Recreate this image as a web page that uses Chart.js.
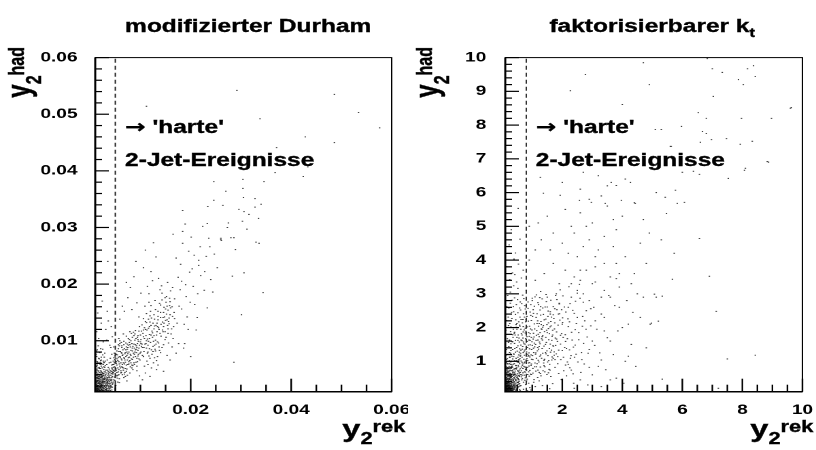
<!DOCTYPE html>
<html><head><meta charset="utf-8">
<script src="https://cdn.jsdelivr.net/npm/chart.js@4.4.1/dist/chart.umd.min.js"></script>
<style>
html,body{margin:0;padding:0;background:#fff;overflow:hidden;width:816px;height:450px}
#stage{position:absolute;left:0;top:0;width:600px;height:450px;transform:scaleX(1.36);transform-origin:0 0;font-family:"Liberation Sans",Arial,sans-serif;font-weight:bold;color:#000}
.pad{position:absolute;top:0;width:300px;height:450px}
.pad canvas{position:absolute;left:0;top:0}
.t{position:absolute;white-space:nowrap;line-height:1;-webkit-text-stroke:0.35px #000}
.ttl{font-size:18px;top:16.8px}
.ann{font-size:18px}
.arr{font-family:"DejaVu Sans",sans-serif;font-weight:bold}
.axx{font-size:24px;right:2px;top:416.7px}
.axy{font-size:24px;left:2.1px;top:197px;width:150px;text-align:right;transform-origin:0 0;transform:rotate(-90deg)}
.sb{font-size:16px;position:relative;top:7.5px}
.sp{font-size:16px;position:relative;top:-4.5px}
.ttl .sb{font-size:12px;top:5px}
</style></head>
<body>
<div id="stage">
 <div class="pad" style="left:0">
  <canvas id="cL" width="300" height="450" style="width:300px;height:450px"></canvas>
  <div class="t ttl" style="left:92px">modifizierter Durham</div>
  <div class="t ann" style="left:92px;top:117.8px"><span class="arr">→</span> 'harte'</div>
  <div class="t ann" style="left:92px;top:150.8px">2-Jet-Ereignisse</div>
  <div class="t axx">y<span class="sb">2</span><span class="sp">rek</span></div>
  <div class="t axy">y<span class="sb">2</span><span class="sp">had</span></div>
 </div>
 <div class="pad" style="left:300px">
  <canvas id="cR" width="300" height="450" style="width:300px;height:450px"></canvas>
  <div class="t ttl" style="left:104px">faktorisierbarer k<span class="sb">t</span></div>
  <div class="t ann" style="left:94px;top:117.8px"><span class="arr">→</span> 'harte'</div>
  <div class="t ann" style="left:94px;top:150.8px">2-Jet-Ereignisse</div>
  <div class="t axx">y<span class="sb">2</span><span class="sp">rek</span></div>
  <div class="t axy">y<span class="sb">2</span><span class="sp">had</span></div>
 </div>
</div>
<script>
// ---- data: modifizierter Durham (y2 rek, y2 had) ----
const durhamXTicks = [0.02, 0.04, 0.06];
const durhamYTicks = [0.01, 0.02, 0.03, 0.04, 0.05, 0.06];
const durhamCut = 0.005;
const durhamPoints = [
[.0011,.0013],[.0014,.0021],[.0019,.0012],[.0012,.0030],[.0023,.0017],[.0016,.0011],[.0027,.0025],[.0013,.0016],[.0031,.0014],[.0020,.0028],
[.0015,.0041],[.0024,.0011],[.0010,.0022],[.0035,.0021],[.0018,.0019],[.0029,.0036],[.0012,.0012],[.0022,.0046],[.0038,.0028],[.0017,.0025],
[.0026,.0013],[.0013,.0035],[.0033,.0031],[.0021,.0021],[.0010,.0016],[.0041,.0017],[.0016,.0052],[.0028,.0019],[.0014,.0014],[.0036,.0043],
[.0019,.0033],[.0025,.0029],[.0011,.0044],[.0032,.0011],[.0022,.0014],[.0015,.0027],[.0043,.0035],[.0027,.0049],[.0018,.0011],[.0030,.0024],
[.0012,.0019],[.0039,.0013],[.0024,.0038],[.0016,.0016],[.0034,.0026],[.0020,.0013],[.0011,.0031],[.0028,.0031],[.0044,.0023],[.0017,.0040],
[.0023,.0022],[.0013,.0011],[.0031,.0040],[.0019,.0026],[.0037,.0018],[.0014,.0048],[.0026,.0017],[.0010,.0027],[.0040,.0047],[.0021,.0031],
[.0029,.0011],[.0015,.0018],[.0034,.0034],[.0018,.0037],[.0024,.0024],[.0012,.0039],[.0042,.0029],[.0027,.0042],[.0016,.0013],[.0033,.0016],
[.0020,.0017],[.0011,.0025],[.0038,.0038],[.0025,.0020],[.0014,.0029],[.0031,.0027],[.0019,.0044],[.0036,.0012],[.0022,.0055],[.0013,.0023],
[.0028,.0027],[.0017,.0021],[.0045,.0041],[.0023,.0035],[.0010,.0012],[.0032,.0021],[.0015,.0033],[.0040,.0025],[.0026,.0058],[.0018,.0015],
[.0035,.0032],[.0012,.0026],[.0021,.0018],[.0030,.0045],[.0016,.0030],[.0043,.0013],[.0024,.0015],[.0011,.0036],[.0037,.0036],[.0020,.0041],
[.0014,.0012],[.0027,.0033],[.0039,.0022],[.0017,.0047],[.0033,.0019],[.0022,.0026],[.0012,.0015],[.0029,.0053],[.0041,.0032],[.0019,.0023],
[.0025,.0012],[.0013,.0043],[.0034,.0028],[.0021,.0016],[.0016,.0020],[.0038,.0050],[.0026,.0022],[.0011,.0018],[.0031,.0033],[.0018,.0029],
[.0042,.0019],[.0023,.0029],[.0014,.0038],[.0030,.0013],[.0019,.0051],[.0036,.0024],[.0012,.0022],[.0027,.0039],[.0044,.0045],[.0015,.0015],
[.0032,.0043],[.0020,.0011],[.0010,.0034],[.0025,.0026],[.0039,.0016],[.0017,.0034],[.0028,.0015],[.0013,.0027],[.0035,.0039],[.0022,.0019],
[.0016,.0024],[.0033,.0012],[.0024,.0044],[.0011,.0011],[.0040,.0030],[.0019,.0017],[.0029,.0028],[.0014,.0057],[.0037,.0020],[.0021,.0036],
[.0026,.0031],[.0012,.0033],[.0043,.0026],[.0018,.0013],[.0031,.0048],[.0023,.0012],[.0015,.0021],[.0035,.0015],[.0020,.0024],[.0028,.0021],
[.0013,.0018],[.0041,.0039],[.0024,.0034],[.0017,.0027],[.0034,.0023],[.0011,.0040],[.0027,.0012],[.0021,.0047],[.0038,.0032],[.0015,.0030],
[.0030,.0018],[.0019,.0020],[.0012,.0014],[.0036,.0046],[.0025,.0037],[.0014,.0016],[.0042,.0042],[.0022,.0023],[.0032,.0030],[.0017,.0017],
[.0013,.0020],[.0017,.0014],[.0021,.0024],[.0025,.0018],[.0029,.0032],[.0033,.0025],[.0037,.0041],[.0041,.0021],[.0015,.0035],[.0019,.0029],
[.0023,.0040],[.0027,.0016],[.0031,.0022],[.0035,.0035],[.0039,.0044],[.0043,.0031],[.0012,.0028],[.0016,.0045],[.0020,.0012],[.0024,.0032],
[.0028,.0045],[.0032,.0014],[.0036,.0030],[.0040,.0019],[.0044,.0050],[.0014,.0024],[.0018,.0032],[.0022,.0037],[.0026,.0028],[.0030,.0039],
[.0034,.0048],[.0038,.0025],[.0042,.0046],[.0011,.0020],[.0015,.0012],[.0019,.0039],[.0023,.0014],[.0027,.0054],[.0031,.0017],[.0035,.0027],
[.0039,.0035],[.0043,.0057],[.0013,.0050],[.0017,.0060],[.0021,.0065],[.0025,.0042],[.0029,.0020],[.0033,.0058],[.0037,.0015],[.0041,.0062],
[.0046,.0027],[.0012,.0045],[.0016,.0037],[.0020,.0051],[.0024,.0021],[.0028,.0062],[.0032,.0036],[.0036,.0053],[.0040,.0012],[.0044,.0018],
[.0011,.0047],[.0013,.0055],[.0015,.0062],[.0017,.0069],[.0012,.0076],[.0014,.0084],[.0016,.0041],[.0018,.0053],[.0020,.0058],[.0022,.0066],
[.0024,.0052],[.0026,.0064],[.0028,.0071],[.0030,.0056],[.0011,.0064],[.0013,.0072],[.0019,.0079],[.0021,.0086],[.0023,.0059],[.0025,.0075],
[.0010,.0041],[.0012,.0054],[.0014,.0019],[.0016,.0033],[.0018,.0024],[.0020,.0035],[.0022,.0043],[.0024,.0027],[.0026,.0039],[.0028,.0034],
[.0047,.0031],[.0052,.0048],[.0058,.0026],[.0049,.0067],[.0063,.0054],[.0055,.0039],[.0071,.0072],[.0046,.0053],[.0067,.0035],[.0060,.0081],
[.0075,.0058],[.0051,.0021],[.0080,.0089],[.0057,.0063],[.0069,.0044],[.0048,.0078],[.0084,.0067],[.0062,.0097],[.0073,.0029],[.0053,.0057],
[.0088,.0076],[.0066,.0061],[.0078,.0102],[.0050,.0042],[.0092,.0085],[.0059,.0072],[.0070,.0051],[.0085,.0049],[.0056,.0093],[.0064,.0040],
[.0096,.0099],[.0045,.0024],[.0077,.0080],[.0061,.0047],[.0082,.0113],[.0054,.0068],[.0068,.0086],[.0091,.0062],[.0047,.0089],[.0074,.0066],
[.0058,.0033],[.0087,.0094],[.0065,.0075],[.0099,.0078],[.0052,.0060],[.0072,.0108],[.0079,.0043],[.0049,.0046],[.0094,.0106],[.0063,.0088],
[.0076,.0070],[.0055,.0027],[.0083,.0057],[.0067,.0099],[.0046,.0064],[.0090,.0118],[.0060,.0052],[.0081,.0083],[.0070,.0037],[.0053,.0082],
[.0097,.0087],[.0064,.0058],[.0074,.0094],[.0048,.0036],[.0086,.0071],[.0057,.0104],[.0093,.0055],[.0068,.0069],[.0079,.0116],[.0051,.0051],
[.0062,.0079],[.0089,.0101],[.0047,.0058],[.0073,.0050],[.0095,.0073],[.0056,.0045],[.0080,.0076],[.0066,.0112],[.0050,.0070],[.0085,.0090],
[.0071,.0084],[.0059,.0055],[.0098,.0092],[.0054,.0034],[.0077,.0063],[.0063,.0066],[.0087,.0109],[.0045,.0043],[.0069,.0077],[.0092,.0079],
[.0082,.0068],[.0058,.0091],[.0075,.0088],[.0049,.0073],[.0066,.0048],[.0094,.0095],[.0053,.0038],[.0078,.0097],[.0061,.0061],[.0088,.0058],
[.0100,.0110],[.0052,.0076],[.0072,.0057],[.0084,.0082],[.0057,.0049],[.0067,.0093],[.0090,.0072],[.0046,.0048],[.0076,.0104],[.0060,.0071],
[.0081,.0061],[.0055,.0065],[.0093,.0088],[.0070,.0079],[.0048,.0054],[.0086,.0115],[.0064,.0053],[.0097,.0068],[.0074,.0085],[.0051,.0039],
[.0079,.0093],[.0062,.0044],[.0089,.0080],[.0056,.0086],[.0068,.0059],[.0095,.0102],[.0047,.0070],[.0073,.0074],[.0083,.0052],[.0059,.0100],
[.0043,.0052],[.0050,.0035],[.0056,.0071],[.0061,.0043],[.0065,.0084],[.0070,.0062],[.0074,.0039],[.0078,.0071],[.0083,.0095],[.0087,.0061],
[.0091,.0104],[.0095,.0083],[.0099,.0066],[.0103,.0128],[.0107,.0081],[.0111,.0109],[.0115,.0092],[.0119,.0133],[.0123,.0076],[.0127,.0121],
[.0131,.0094],[.0135,.0152],[.0139,.0113],[.0143,.0088],[.0147,.0131],[.0151,.0168],[.0155,.0121],[.0159,.0146],[.0044,.0037],[.0048,.0061],
[.0053,.0044],[.0057,.0081],[.0062,.0068],[.0066,.0052],[.0071,.0096],[.0075,.0077],[.0080,.0054],[.0084,.0106],[.0088,.0087],[.0093,.0069],
[.0097,.0117],[.0102,.0090],[.0106,.0072],[.0110,.0134],[.0114,.0103],[.0118,.0086],[.0122,.0140],[.0126,.0099],[.0130,.0082],[.0134,.0125],
[.0046,.0044],[.0051,.0069],[.0055,.0052],[.0059,.0095],[.0064,.0074],[.0068,.0041],[.0072,.0089],[.0077,.0059],[.0081,.0100],[.0086,.0078],
[.0090,.0093],[.0094,.0063],[.0098,.0125],[.0101,.0080],[.0105,.0113],[.0109,.0094],[.0113,.0119],[.0117,.0073],[.0121,.0127],[.0124,.0106],
[.0128,.0138],[.0132,.0110],[.0136,.0096],[.0140,.0141],[.0145,.0116],[.0149,.0102],[.0153,.0161],[.0157,.0140],[.0045,.0058],[.0049,.0030],
[.0054,.0075],[.0058,.0059],[.0063,.0091],[.0067,.0070],[.0072,.0046],[.0076,.0092],[.0081,.0074],[.0085,.0056],[.0089,.0112],[.0092,.0091],
[.0096,.0076],[.0100,.0098],[.0104,.0088],[.0108,.0104],[.0112,.0087],[.0116,.0122],[.0120,.0097],[.0124,.0114],[.0128,.0092],[.0133,.0131],
[.0137,.0120],[.0141,.0129],[.0146,.0150],[.0150,.0136],[.0154,.0127],[.0160,.0158],[.0047,.0047],[.0052,.0063],[.0057,.0040],[.0063,.0078],
[.0069,.0066],[.0073,.0080],[.0079,.0065],[.0084,.0087],[.0090,.0084],[.0095,.0109],[.0101,.0095],[.0106,.0119],[.0112,.0100],[.0118,.0111],
[.0080,.0194],[.0106,.0229],[.0126,.0273],[.0093,.0167],[.0068,.0152],[.0114,.0196],[.0059,.0138],[.0087,.0213],[.0131,.0248],[.0075,.0176],
[.0101,.0184],[.0121,.0222],[.0064,.0161],[.0097,.0142],[.0110,.0260],[.0083,.0155],[.0136,.0210],[.0072,.0203],[.0117,.0168],[.0091,.0240],
[.0146,.0046],[.0122,.0052],[.0098,.0038],[.0135,.0057],[.0110,.0043],[.0159,.0066],[.0104,.0031],[.0128,.0070],[.0171,.0078],[.0115,.0058],
[.0140,.0079],[.0093,.0047],[.0163,.0089],[.0119,.0037],[.0153,.0074],[.0108,.0055],[.0176,.0095],[.0132,.0049],[.0186,.0087],[.0125,.0081],
[.0014,.0063],[.0022,.0071],[.0034,.0066],[.0012,.0082],[.0029,.0078],[.0039,.0092],[.0017,.0104],[.0041,.0088],[.0026,.0098],[.0031,.0120],
[.0013,.0116],[.0044,.0107],[.0020,.0062],[.0036,.0135],[.0027,.0061],[.0011,.0073],[.0033,.0101],[.0040,.0069],[.0022,.0131],[.0016,.0091],
[.0035,.0240],[.0024,.0170],[.0034,.0152],[.0043,.0076],[.0018,.0068],[.0038,.0061],[.0025,.0085],[.0030,.0064],[.0015,.0149],[.0042,.0125],
[.0104,.0074],[.0111,.0095],[.0108,.0123],[.0122,.0084],[.0116,.0138],[.0130,.0101],[.0102,.0117],[.0127,.0146],[.0138,.0083],[.0113,.0064],
[.0144,.0119],[.0120,.0152],[.0135,.0137],[.0151,.0106],[.0118,.0104],[.0140,.0163],[.0156,.0134],[.0125,.0090],[.0162,.0121],[.0132,.0065],
[.0148,.0142],[.0106,.0139],[.0159,.0169],[.0136,.0123],[.0167,.0150],[.0114,.0078],[.0146,.0093],[.0153,.0137],[.0129,.0171],[.0143,.0184],
[.0165,.0104],[.0139,.0190],[.0158,.0162],[.0119,.0144],[.0134,.0072],[.0150,.0156],[.0164,.0143],[.0123,.0117],[.0142,.0197],[.0155,.0113],
[.0109,.0161],[.0131,.0127],[.0147,.0159],[.0160,.0188],[.0137,.0089],[.0126,.0061],[.0149,.0176],[.0124,.0206],[.0110,.0120],[.0156,.0096],
[.0101,.0102],[.0115,.0080],[.0133,.0116],[.0117,.0183],[.0145,.0141],[.0128,.0126],[.0152,.0178],[.0166,.0125],[.0154,.0203],[.0121,.0110],
[.0141,.0108],[.0107,.0088],[.0163,.0160],[.0125,.0131],[.0140,.0150],[.0157,.0130],[.0112,.0132],[.0134,.0098],[.0168,.0139],[.0119,.0069],
[.0146,.0125],[.0130,.0155],[.0103,.0094],[.0161,.0112],[.0138,.0166],[.0116,.0099],[.0152,.0147],[.0127,.0109],[.0144,.0133],[.0106,.0107],
[.0158,.0175],[.0121,.0162],[.0149,.0116],[.0135,.0143],[.0112,.0148],[.0164,.0194],[.0129,.0085],[.0143,.0172],[.0118,.0125],[.0155,.0154],
[.0168,.0174],[.0175,.0212],[.0182,.0156],[.0190,.0199],[.0171,.0246],[.0203,.0227],[.0187,.0129],[.0214,.0183],[.0196,.0258],[.0220,.0215],
[.0179,.0190],[.0208,.0164],[.0231,.0249],[.0184,.0272],[.0219,.0266],[.0193,.0142],[.0240,.0208],[.0201,.0283],[.0227,.0189],[.0173,.0131],
[.0236,.0281],[.0198,.0221],[.0211,.0119],[.0247,.0253],[.0189,.0306],[.0224,.0302],[.0253,.0229],[.0205,.0196],[.0233,.0158],[.0165,.0288],
[.0184,.0293],[.0188,.0095],[.0200,.0072],[.0180,.0235],[.0216,.0233],[.0191,.0178],[.0228,.0222],[.0177,.0161],[.0207,.0251],[.0195,.0120],
[.0244,.0186],[.0213,.0141],[.0182,.0205],[.0238,.0266],[.0199,.0168],
[.0261,.0277],[.0216,.0242],[.0275,.0308],[.0289,.0261],[.0296,.0332],[.0270,.0364],[.0312,.0297],[.0304,.0385],[.0328,.0351],[.0283,.0214],
[.0335,.0316],[.0306,.0220],[.0286,.0062],[.0344,.0185],[.0264,.0339],[.0330,.0274],[.0301,.0146],[.0260,.0279],[.0280,.0282],[.0336,.0272],
[.0246,.0381],[.0368,.0397],[.0424,.0390],[.0304,.0369],[.0340,.0341],[.0184,.0330],[.0316,.0323],[.0328,.0336],[.0371,.0441],[.0433,.0407],
[.0346,.0381],[.0246,.0348],[.0234,.0337],[.0305,.0353],[.0306,.0328],[.0303,.0311],[.0273,.0300],[.0233,.0307],[.0286,.0282],[.0260,.0281],
[.0292,.0542],[.0486,.0535],[.0534,.0503],[.0576,.0476],[.0428,.0460],[.0486,.0450],[.0112,.0514],[.0338,.0492]
];

// ---- data: faktorisierbarer kt (y2 rek, y2 had) ----
const ktXTicks = [2, 4, 6, 8, 10];
const ktYTicks = [1, 2, 3, 4, 5, 6, 7, 8, 9, 10];
const ktCut = 0.8;
const ktPoints = [
[0.12,0.15],[0.18,0.31],[0.25,0.12],[0.14,0.52],[0.33,0.24],[0.21,0.43],[0.41,0.17],[0.16,0.22],[0.29,0.61],[0.37,0.38],
[0.13,0.84],[0.48,0.29],[0.22,0.19],[0.31,0.14],[0.19,0.67],[0.55,0.46],[0.27,0.33],[0.11,0.36],[0.43,0.71],[0.35,0.11],
[0.24,0.94],[0.52,0.22],[0.15,0.13],[0.39,0.52],[0.28,0.26],[0.17,1.08],[0.51,0.63],[0.23,0.37],[0.46,0.13],[0.12,0.64],
[0.34,0.82],[0.58,0.34],[0.20,0.16],[0.30,0.45],[0.14,0.29],[0.44,0.24],[0.26,0.74],[0.57,0.55],[0.19,0.11],[0.38,0.19],
[0.11,0.21],[0.53,0.88],[0.32,0.32],[0.22,0.56],[0.47,0.42],[0.16,0.41],[0.60,0.13],[0.27,0.18],[0.41,1.02],[0.13,0.11],
[0.36,0.60],[0.21,0.27],[0.57,0.74],[0.25,0.49],[0.15,0.77],[0.45,0.35],[0.31,0.21],[0.18,0.14],[0.54,0.41],[0.29,0.38],
[0.12,0.47],[0.40,0.28],[0.23,0.85],[0.50,0.19],[0.17,0.33],[0.35,0.66],[0.59,0.27],[0.26,0.13],[0.14,0.96],[0.42,0.50],
[0.20,0.23],[0.54,0.58],[0.33,0.16],[0.11,0.28],[0.28,0.53],[0.48,0.81],[0.16,0.18],[0.37,0.43],[0.24,0.30],[0.56,0.68],
[0.19,0.58],[0.43,0.12],[0.30,0.91],[0.13,0.39],[0.52,0.31],[0.22,0.12],[0.39,0.77],[0.15,0.25],[0.58,0.16],[0.27,0.44],
[0.34,0.25],[0.18,0.47],[0.56,0.98],[0.12,0.19],[0.45,0.62],[0.25,0.21],[0.32,1.15],[0.20,0.35],[0.53,0.49],[0.38,0.33],
[0.14,0.14],[0.21,0.20],[0.17,0.27],[0.26,0.16],[0.13,0.33],[0.30,0.29],[0.23,0.24],[0.16,0.12],[0.19,0.38],[0.28,0.12],
[0.12,0.25],[0.35,0.20],[0.24,0.40],[0.18,0.19],[0.15,0.60],[0.41,0.36],[0.29,0.15],[0.11,0.44],[0.22,0.32],[0.36,0.14],
[0.13,0.17],[0.20,0.29],[0.27,0.22],[0.16,0.35],[0.32,0.18],[0.11,0.12],[0.24,0.27],[0.39,0.23],[0.17,0.50],[0.31,0.39],
[0.15,0.19],[0.22,0.15],[0.12,0.31],[0.28,0.34],[0.19,0.25],[0.34,0.13],[0.14,0.42],[0.25,0.57],[0.44,0.30],[0.18,0.70],
[0.21,0.13],[0.11,0.16],[0.26,0.25],[0.16,0.28],[0.38,0.47],[0.23,0.18],[0.13,0.22],[0.31,0.27],[0.49,0.52],[0.20,0.45],
[0.17,0.16],[0.29,0.20],[0.12,0.12],[0.24,0.35],[0.42,0.21],[0.15,0.34],[0.33,0.55],[0.19,0.21],[0.27,0.64],[0.14,0.24],
[0.36,0.28],[0.22,0.22],[0.11,0.53],[0.47,0.17],[0.18,0.37],[0.30,0.13],[0.25,0.81],[0.40,0.40],[0.16,0.15],[0.23,0.48],
[0.13,0.20],[0.16,0.26],[0.19,0.17],[0.22,0.29],[0.25,0.23],[0.28,0.18],[0.31,0.33],[0.34,0.21],[0.37,0.16],[0.12,0.38],
[0.15,0.45],[0.18,0.55],[0.21,0.36],[0.24,0.46],[0.27,0.28],[0.30,0.52],[0.33,0.37],[0.36,0.47],[0.39,0.31],[0.42,0.26],
[0.14,0.67],[0.17,0.74],[0.20,0.62],[0.23,0.71],[0.26,0.53],[0.29,0.83],[0.32,0.62],[0.35,0.74],[0.38,0.58],[0.41,0.66],
[0.44,0.44],[0.47,0.57],[0.50,0.48],[0.53,0.71],[0.56,0.33],[0.11,0.85],[0.14,1.05],[0.19,0.92],[0.24,1.12],[0.29,0.99],
[0.15,0.48],[0.22,0.71],[0.29,0.47],[0.36,0.91],[0.43,0.56],[0.50,0.98],[0.57,0.41],[0.64,0.83],[0.71,0.38],[0.78,0.76],
[0.18,0.82],[0.25,0.65],[0.32,0.72],[0.39,0.61],[0.46,0.87],[0.53,0.37],[0.60,0.67],[0.67,0.49],[0.74,0.69],[0.81,0.42],
[0.17,0.93],[0.24,1.02],[0.31,0.84],[0.38,1.14],[0.45,0.79],[0.52,1.12],[0.59,1.08],[0.66,0.59],[0.73,1.30],[0.80,0.94],
[0.19,0.27],[0.27,0.56],[0.14,0.36],[0.21,0.50],[0.33,0.42],[0.18,0.28],[0.25,0.17],[0.40,0.65],[0.12,0.72],[0.29,0.72],
[0.37,0.27],[0.16,0.63],[0.23,0.62],[0.31,0.56],[0.45,0.46],[0.20,0.78],[0.13,0.27],[0.50,0.37],[0.34,0.48],[0.27,0.91],
[0.42,0.78],[0.55,0.25],
[0.72,0.85],[0.85,1.21],[0.94,0.62],[1.08,1.43],[0.78,1.67],[1.22,0.98],[0.66,1.12],[0.91,2.04],[1.17,1.31],[0.58,0.93],
[0.83,0.47],[0.99,1.58],[0.74,2.31],[1.12,0.71],[0.88,1.85],[0.62,1.48],[1.04,2.42],[1.24,1.57],[0.79,1.04],[0.96,0.88],
[1.15,1.91],[0.69,0.66],[1.01,1.17],[0.86,2.57],[0.76,1.34],[1.19,2.74],[0.93,1.49],[0.64,1.82],[1.27,0.83],[1.06,1.72],
[0.81,0.74],[0.97,2.21],[1.14,1.09],[0.70,1.26],[1.21,2.04],[0.89,1.63],[0.60,0.78],[1.09,2.91],[0.77,1.98],[0.92,1.13],
[1.02,0.79],[0.84,1.41],[1.26,2.52],[0.67,2.14],[1.11,1.50],[0.95,2.68],[0.73,0.59],[1.30,1.96],[1.05,1.26],[0.55,1.19],
[0.87,0.95],[1.20,1.80],[0.99,1.93],[0.80,2.45],[1.13,2.30],[0.71,1.57],[1.28,1.19],[0.90,0.56],[1.07,2.11],[0.82,1.73],
[1.18,1.41],[0.63,1.01],[0.98,1.35],[0.75,2.65],[1.25,2.89],[1.03,1.66],[0.86,1.15],[1.16,0.93],[0.35,1.35],[0.52,1.62],
[0.28,1.88],[0.45,2.23],[0.61,2.52],[0.33,2.81],[0.57,1.27],[0.41,1.53],[0.25,2.12],[0.68,2.96],[0.38,3.24],[0.49,1.95],
[0.22,1.44],[0.64,3.47],[0.31,2.45],[0.54,3.88],[0.44,4.21],[0.27,3.05],[0.59,4.62],[0.36,1.71],[0.47,2.68],[0.20,2.31],
[0.66,1.78],[0.42,3.57],[0.30,4.90],[0.65,0.45],[0.78,0.31],[0.92,0.22],[0.71,0.17],[1.05,0.38],[0.84,0.13],[1.18,0.52],
[0.62,0.28],[0.97,0.61],[0.75,0.44],[1.10,0.25],[0.88,0.35],[0.68,0.92],[1.23,0.67],[0.80,0.58],[0.95,0.15],[1.14,0.84],
[0.26,1.12],[0.14,1.35],[0.39,1.21],[0.17,1.67],[0.48,1.41],[0.12,1.92],[0.33,1.58],[0.21,2.06],[0.55,2.17],[0.15,2.62],
[0.46,1.09],[0.29,1.32],[0.19,1.21],[0.37,1.95],[0.52,2.44],[0.24,1.63],[0.11,1.05],[0.43,1.78],[0.32,2.27],[0.58,2.07],
[0.74,1.18],[0.91,1.37],[0.68,1.44],[1.02,1.05],[0.83,1.59],[0.61,1.24],[0.97,1.71],[0.79,1.89],[1.12,1.25],[0.70,2.03],
[0.87,2.19],[0.63,1.63],[1.07,1.54],[0.76,1.51],[0.94,1.96],[0.59,2.31],[1.19,1.63],[0.85,1.02],[0.72,1.06],[1.01,2.33],
[0.81,1.28],[0.66,0.97],[0.93,1.82],[1.16,2.12],[0.78,2.17],[0.57,1.57],[1.04,1.39],[0.89,1.25],[0.69,1.69],[1.23,1.73],
[0.54,0.84],[0.77,0.68],[0.62,0.61],[0.91,0.96],[0.48,1.02],[0.84,0.82],[0.69,0.79],[1.09,0.95],[0.58,0.57],[0.96,1.19],
[0.51,0.72],[0.73,0.95],[0.64,0.72],[0.45,0.88],[0.82,1.08],[0.67,1.36],[0.55,1.05],[0.88,0.69],[0.60,1.15],[0.76,0.83],
[0.40,0.93],[0.50,1.30],[0.35,1.07],[0.62,1.95],[0.44,1.62],[0.29,1.52],[0.53,1.78],[0.38,2.47],[0.47,2.01],[0.27,2.72],
[0.34,3.62],[0.18,2.95],[0.52,3.16],[0.25,3.42],[0.41,2.88],[0.15,3.80],[0.60,2.76],[0.39,4.03],[0.23,4.45],[0.48,3.35],
[0.31,1.01],[0.47,0.77],[0.62,1.33],[0.77,0.51],[0.93,1.62],[1.08,0.84],[1.23,2.12],[1.39,1.45],[1.54,0.66],[1.70,2.38],
[0.36,0.69],[0.52,1.46],[0.67,0.88],[0.83,2.02],[0.98,1.06],[1.14,1.77],[1.29,0.57],[1.45,2.25],[1.60,1.51],[1.76,0.82],
[0.41,1.86],[0.57,0.63],[0.72,1.52],[0.88,1.17],[1.03,2.53],[1.19,0.74],[1.34,1.63],[1.50,2.61],[1.65,1.04],[1.81,1.66],
[0.26,0.58],[0.44,1.27],[0.59,2.04],[0.75,0.98],[0.90,1.74],[1.06,0.46],[1.21,1.36],[1.37,2.06],[1.52,1.17],[1.68,1.92],
[0.33,0.86],[0.49,1.71],[0.64,0.54],[0.80,1.39],[0.95,2.36],[1.11,1.21],[1.26,1.85],[1.42,0.69],[1.57,1.82],[1.73,1.28],
[0.38,1.22],[0.54,0.97],[0.69,2.24],[0.85,0.61],[1.00,1.47],[1.16,2.41],[1.31,1.09],[1.47,1.56],[1.62,2.18],[1.78,1.47],
[0.28,0.99],[0.46,2.09],[0.61,1.18],[0.77,1.84],[0.92,0.73],[1.08,1.96],[1.23,1.44],[1.39,0.87],[1.54,1.97],[1.70,1.09],
[0.35,1.58],[0.51,0.54],[0.66,1.61],[0.82,2.33],[0.97,0.92],[1.13,1.62],[1.28,2.37],[1.44,1.26],[1.59,0.74],[1.75,2.14],
[0.42,0.61],[0.58,1.37],[0.73,1.93],[0.89,0.86],[1.04,1.83],[1.20,1.03],[1.35,2.01],[1.51,0.98],[1.66,1.74],[1.82,2.53],
[0.24,1.26],[0.40,1.83],[0.56,1.04],[0.71,2.41],[0.87,1.48],[1.02,0.65],[1.18,2.20],[1.33,1.73],[1.49,2.09],[1.64,1.33],
[0.13,1.18],[0.21,1.56],[0.28,1.24],[0.35,1.79],[0.42,1.38],[0.49,2.12],[0.56,1.69],[0.63,2.24],[0.70,1.87],[0.77,2.55],
[0.14,2.21],[0.22,2.58],[0.29,2.02],[0.37,2.62],[0.44,2.39],[0.51,2.83],[0.58,2.58],[0.65,2.71],[0.72,2.86],[0.79,2.23],
[0.86,2.76],[0.93,2.46],[1.00,2.87],[1.07,2.63],[1.14,2.97],[1.21,2.68],[1.28,3.07],[1.35,2.58],
[1.35,1.76],[1.46,1.22],[1.29,2.18],[1.55,1.64],[1.63,2.05],[1.39,1.03],[1.71,1.45],[1.52,2.33],[1.81,1.87],[1.43,2.61],
[1.66,1.13],[1.33,1.38],[1.92,2.22],[1.58,0.91],[1.48,1.92],[1.75,2.56],[1.37,2.39],[2.03,1.71],[1.62,2.81],[1.86,2.07],
[1.44,1.50],[1.68,1.78],[2.12,2.46],[1.31,1.67],[1.54,2.14],[1.78,2.95],[2.00,1.32],[1.41,1.06],[1.60,2.47],[1.84,1.59],
[1.47,2.77],[1.72,2.27],[1.36,0.72],[1.57,1.38],[1.90,2.72],[1.50,1.85],[1.65,1.62],[2.20,2.03],[1.40,2.23],[1.80,1.22],
[1.55,1.02],[1.70,2.62],[1.23,0.42],[1.49,0.61],[1.85,0.93],[2.14,0.57],[1.68,0.34],[2.41,1.12],[1.34,0.28],[2.25,0.81],
[1.97,0.46],[2.62,0.67],[2.86,1.24],[1.58,0.19],[2.38,0.35],[2.71,1.53],[2.31,1.86],[2.08,1.41],[2.47,2.12],[1.95,1.05],
[2.26,2.71],[2.55,1.64],[2.17,0.98],[2.68,2.33],[2.02,2.94],[2.43,1.48],[2.79,1.95],[1.88,1.33],[2.35,2.51],[2.10,1.79],
[2.59,2.87],[1.98,2.53],[2.29,1.17],[2.73,0.92],[2.05,0.72],[2.50,3.02],[1.76,1.05],[2.64,1.26],[2.19,2.26],[1.93,3.12],
[1.26,1.52],[1.32,1.95],[1.45,1.71],[1.28,2.62],[1.61,1.27],[1.38,0.95],[1.53,2.49],[1.25,1.15],[1.74,1.96],[1.42,0.84],
[1.64,2.31],[1.33,2.85],[1.87,2.40],[1.49,1.31],[1.77,1.69],[1.27,0.64],[1.59,2.02],[2.01,2.15],[1.35,1.24],[1.69,1.46],
[1.82,2.83],[1.30,2.09],[1.56,0.76],[2.11,1.59],[1.46,2.98],[1.73,1.18],[2.24,1.34],[1.41,1.88],[1.94,1.77],[1.62,0.55],
[2.36,0.63],[2.83,1.72],[2.52,0.98],[2.95,2.56],[2.22,3.21],[2.67,2.04],[3.08,1.47],[2.44,2.78],[2.90,0.82],[2.57,3.28],
[1.85,1.14],[1.98,1.82],[2.11,0.89],[2.24,2.17],[2.37,1.42],[1.91,2.41],[2.04,1.12],[2.17,1.67],[2.30,0.74],[2.43,1.94],
[1.88,0.64],[2.01,2.29],[2.14,1.38],[2.27,1.09],[2.40,2.42],[1.94,1.51],[2.07,2.61],[2.20,0.91],[2.33,1.63],[2.46,1.21],
[2.60,0.45],[2.90,1.35],[3.20,0.85],[3.50,1.70],[2.75,2.20],[3.05,2.60],[3.40,2.30],[3.70,1.20],[4.00,2.00],[4.30,1.50],
[2.55,1.85],[2.85,0.30],[3.15,1.95],[3.45,0.75],[3.75,2.65],[4.05,0.35],[4.35,2.45],[2.65,1.05],[2.95,2.05],[3.25,1.25],
[3.55,2.95],[3.85,1.90],[4.15,2.80],[4.45,0.85],[2.70,2.75],[3.00,1.60],[3.30,2.90],[3.60,0.45],[3.90,3.20],[4.20,1.15],
[4.60,2.30],[4.80,1.40],[4.40,3.60],[3.10,3.35],[3.40,3.90],[2.60,3.70],[4.70,2.90],[3.80,3.45],[2.40,0.20],[3.30,0.25],
[2.3,2.9],[2.6,3.4],[1.9,3.3],[2.8,2.5],[3.1,3.8],[2.1,3.7],[3.4,3.1],[2.5,4.1],[1.7,3.9],[3.7,4.4],
[2.9,4.6],[2.2,2.6],[3.3,2.4],[2.7,3.0],[1.6,4.3],[3.9,3.6],[2.4,4.8],[3.0,5.1],[3.6,2.9],[2.0,4.5],
[3.2,4.3],[2.6,5.4],[4.1,4.1],[1.8,3.0],[3.5,5.6],[2.8,3.7],[4.3,3.3],[2.3,5.0],[3.8,4.9],[1.5,5.3],
[3.1,2.2],[2.5,2.3],[4.0,5.3],[2.9,5.8],[3.4,4.7],[2.1,5.5],[4.6,4.5],[3.6,3.5],[2.7,4.4],[1.9,2.7],
[3.3,5.9],[4.4,5.7],[2.4,3.5],[3.0,3.3],[4.8,3.9],[2.2,4.2],[3.9,2.6],[2.6,6.1],[3.7,5.2],[1.7,4.8],
[4.2,2.1],[2.9,2.8],[3.5,6.2],[2.0,6.3],[4.5,3.0],[3.2,6.5],[2.5,3.1],[4.9,4.8],[3.8,3.9],[2.8,5.0],
[1.6,2.4],[3.4,1.9],[4.1,6.4],[2.3,3.3],[3.1,4.1],[5.3,4.6],[2.7,6.6],[3.6,1.6],[4.7,5.2],[2.0,2.1],
[1.27,6.45],[1.37,5.98],[1.93,5.92],[3.63,6.30],[3.80,6.21],[4.27,6.30],[5.13,6.00],[2.57,5.77],[2.97,5.71],[3.43,5.68],
[3.97,5.77],[4.43,5.68],[5.43,5.86],[6.07,5.71],[0.53,5.53],[1.1,3.4],[0.9,4.0],[1.3,4.6],[0.8,3.1],[1.2,5.1],
[1.0,2.8],[0.7,3.7],[1.4,3.6],[1.1,4.3],[0.9,5.0],[1.5,2.9],[3.0,0.6],[3.3,1.04],[3.8,0.5],[4.1,1.0],
[4.97,2.13],[5.20,2.19],[5.33,0.47],[7.20,0.20],[5.33,2.93],[5.07,2.99],[6.57,4.64],[5.73,4.20],[5.67,3.43],[6.90,3.52],
[7.13,2.48],[7.50,1.07],[8.43,1.18],[4.93,2.10],
[6.83,9.97],[7.00,9.67],[7.33,9.56],[8.17,9.67],[8.37,9.76],[8.43,9.44],[7.87,9.35],[8.03,9.20],[4.90,9.20],[4.70,9.85],
[7.03,8.85],[9.63,8.52],[6.53,8.37],[6.80,8.20],[7.97,8.20],[8.97,8.20],[5.97,7.96],[5.30,7.87],[6.67,7.81],[6.80,7.75],
[7.47,7.60],[6.60,7.49],[8.33,7.52],[7.93,7.43],[6.97,7.57],[5.60,7.37],[8.83,6.92],[8.07,6.66],[7.53,6.42],[6.37,6.63],
[6.57,6.54],[6.00,6.60],[5.77,6.07],[5.83,5.68],[5.47,5.38],[2.77,9.50],[2.27,9.02],[4.00,8.61],[5.10,7.87],
[5.63,7.37],[8.10,6.72],[8.87,6.90],[9.60,8.50],[5.13,2.90]
];

const FONT = '"Liberation Sans", Arial, sans-serif';

function rootAxes(opt) {
  return {
    id: 'rootAxes',
    afterDatasetsDraw(chart) {
      const { ctx, chartArea: a, scales: { x, y } } = chart;
      ctx.save();
      const cx = x.getPixelForValue(opt.cut);
      ctx.strokeStyle = '#222';
      ctx.lineWidth = 1;
      ctx.setLineDash([4, 3]);
      ctx.beginPath();
      ctx.moveTo(cx, a.bottom);
      ctx.lineTo(cx, a.top);
      ctx.stroke();
      ctx.setLineDash([]);
      ctx.strokeStyle = '#000';
      ctx.lineWidth = 1;
      ctx.strokeRect(a.left, a.top, a.right - a.left, a.bottom - a.top);
      ctx.lineWidth = 1.5;
      ctx.beginPath();
      ctx.moveTo(a.left, a.top);
      ctx.lineTo(a.left, a.bottom);
      ctx.lineTo(a.right, a.bottom);
      ctx.stroke();
      ctx.lineWidth = 1.2;
      const nx = Math.round(x.max / opt.xMinor);
      for (let i = 1; i <= nx; i++) {
        const v = i * opt.xMinor;
        if (v < x.min) continue;
        const len = (i % opt.xPer === 0) ? 13 : 7;
        const p = x.getPixelForValue(v);
        ctx.beginPath(); ctx.moveTo(p, a.bottom); ctx.lineTo(p, a.bottom - len); ctx.stroke();
      }
      const ny = Math.round(y.max / opt.yMinor);
      for (let i = 1; i <= ny; i++) {
        const v = i * opt.yMinor;
        if (v < y.min) continue;
        const len = (i % opt.yPer === 0) ? 10 : 5;
        const p = y.getPixelForValue(v);
        ctx.beginPath(); ctx.moveTo(a.left, p); ctx.lineTo(a.left + len, p); ctx.stroke();
      }
      ctx.restore();
    }
  };
}

function makeChart(id, pts, cfg) {
  return new Chart(document.getElementById(id), {
    type: 'scatter',
    data: { datasets: [{
      data: pts.map(p => ({ x: p[0], y: p[1] })),
      pointStyle: 'rect', pointRadius: 0.75, pointBorderWidth: 0,
      backgroundColor: 'rgba(0,0,0,0.75)', borderColor: 'rgba(0,0,0,0)'
    }] },
    options: {
      responsive: false, animation: false, devicePixelRatio: 2, events: [],
      layout: { padding: { top: 57.6, right: cfg.padRight, left: 0, bottom: 0 } },
      plugins: { legend: { display: false }, tooltip: { enabled: false }, title: { display: false } },
      scales: {
        x: {
          type: 'linear', min: cfg.xMin, max: cfg.xMax,
          grid: { display: false, drawTicks: false }, border: { display: false },
          ticks: { color: '#000', padding: 10, autoSkip: false, maxRotation: 0,
                   font: { family: FONT, size: 14, weight: 'bold' }, callback: v => String(v) },
          afterBuildTicks: s => { s.ticks = cfg.xTicks.map(v => ({ value: v })); },
          afterFit: s => { s.height = 58.3; s.paddingLeft = 0; s.paddingRight = 0; }
        },
        y: {
          type: 'linear', min: cfg.yMin, max: cfg.yMax,
          grid: { display: false, drawTicks: false }, border: { display: false },
          ticks: { color: '#000', padding: cfg.yPad, autoSkip: false,
                   font: { family: FONT, size: 14, weight: 'bold' }, callback: v => String(v) },
          afterBuildTicks: s => { s.ticks = cfg.yTicks.map(v => ({ value: v })); },
          afterFit: s => { s.width = cfg.left; s.paddingTop = 0; s.paddingBottom = 0; }
        }
      }
    },
    plugins: [rootAxes(cfg)]
  });
}

makeChart('cL', durhamPoints, {
  xMin: 0.001, xMax: 0.06, yMin: 0.001, yMax: 0.06,
  xTicks: durhamXTicks, yTicks: durhamYTicks, cut: durhamCut,
  xMinor: 0.005, xPer: 4, yMinor: 0.002, yPer: 5,
  left: 70, padRight: 12, yPad: 13
});
makeChart('cR', ktPoints, {
  xMin: 0.1, xMax: 10, yMin: 0.1, yMax: 10,
  xTicks: ktXTicks, yTicks: ktYTicks, cut: ktCut,
  xMinor: 0.5, xPer: 4, yMinor: 0.2, yPer: 5,
  left: 71.5, padRight: 10, yPad: 14
});
</script>
</body></html>
